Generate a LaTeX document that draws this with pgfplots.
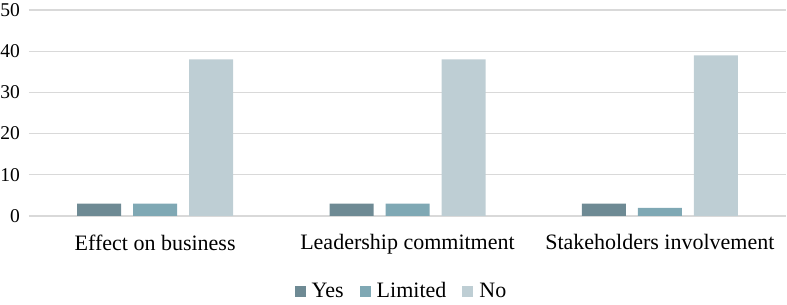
\documentclass[border=0pt]{standalone}
\usepackage{pgfplots}
\pgfplotsset{compat=1.18}
\usepackage{fontspec}
\setmainfont{Liberation Serif}
\definecolor{cyes}{HTML}{6E8A94}
\definecolor{clim}{HTML}{7FA8B4}
\definecolor{cno}{HTML}{BECED4}
\definecolor{cgrid}{HTML}{D9D9D9}
\begin{document}
\fontsize{22}{26}\selectfont
\begin{tikzpicture}
\begin{axis}[
  scale only axis,
  width=757pt, height=206pt,
  ybar=12pt, bar width=44pt,
  xmin=-0.5, xmax=2.5,
  ymin=0, ymax=50,
  ytick={0,10,20,30,40,50},
  xtick={0,1,2},
  xticklabels={Effect on business, Leadership commitment, Stakeholders involvement},
  axis line style={draw=none},
  axis x line*=bottom,
  ymajorgrids, grid style={cgrid, line width=1.2pt},
  major tick length=0pt,
  /pgf/number format/assume math mode=true,
  xticklabel style={font=\fontsize{22}{26}\selectfont, yshift=-11pt},
  yticklabel style={font=\fontsize{19.5}{23}\selectfont, xshift=-1.5pt},
  legend style={at={(0.5,0)}, anchor=north, yshift=-62pt, xshift=-6pt, draw=none, fill=none,
    font=\fontsize{22}{26}\selectfont, legend columns=-1,
    /tikz/every odd column/.append style={column sep=4pt},
    /tikz/every even column/.append style={column sep=14pt}},
  legend image code/.code={\fill[#1] (0pt,-5.5pt) rectangle (11pt,5.5pt);},
  clip=false,
]
\addplot[fill=cyes, draw=none] coordinates {(0,3) (1,3) (2,3)};
\addplot[fill=clim, draw=none] coordinates {(0,3) (1,3) (2,2)};
\addplot[fill=cno, draw=none] coordinates {(0,38) (1,38) (2,39)};
\legend{Yes, Limited, No}
\end{axis}
\pgfresetboundingbox
\path (current axis.south west) ++(-29pt,-89pt) rectangle ++(787pt,305pt);
\end{tikzpicture}
\end{document}
